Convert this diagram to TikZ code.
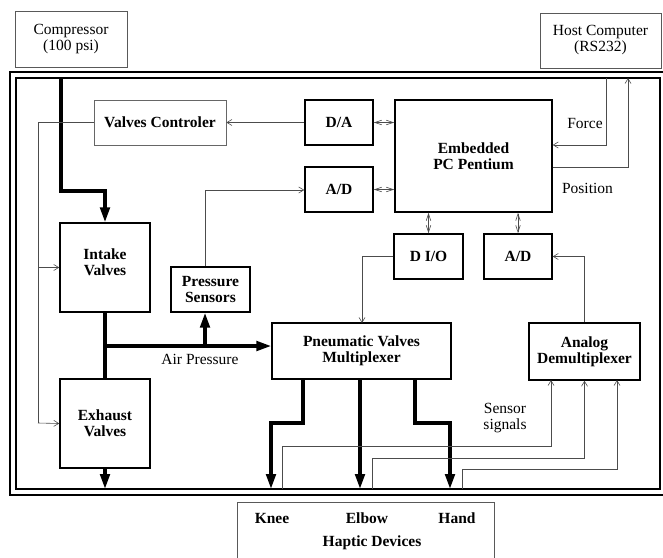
\documentclass[tikz,border=0pt]{standalone}
\usepackage{fontspec}
\setmainfont{Liberation Serif}
\usetikzlibrary{arrows.meta}
\begin{document}
\begin{tikzpicture}[x=1pt,y=-1pt,
  txt/.style={font=\fontsize{15.5}{16}\selectfont, align=center, inner sep=0pt},
  btxt/.style={font=\fontsize{15.5}{16}\selectfont\bfseries, align=center, inner sep=0pt},
  box/.style={btxt, draw, line width=1.4pt},
  lbox/.style={txt, draw=black!65, line width=0.7pt},
  frameline/.style={line width=1.8pt},
  flow/.style={line width=3.4pt},
  flowarrow/.style={flow, -{Triangle[length=15pt,width=9.5pt]}},
  sig/.style={draw=black!70, line width=0.6pt},
  sigarrow/.style={sig, -{Straight Barb[length=5pt,width=6pt]}},
  duplex/.style={sig, {Straight Barb[length=7pt,width=4.5pt]}-{Straight Barb[length=7pt,width=4.5pt]}}
]
\useasboundingbox (0,0) rectangle (663,557);

% frame
\draw[frameline] (10,72) rectangle (666,495);
\draw[frameline] (16,78) rectangle (660,489);

% outside boxes
\node[lbox, minimum width=112pt, minimum height=56pt] (comp) at (71,39) {Compressor\\(100 psi)};
\node[lbox, minimum width=121pt, minimum height=55pt] (host) at (600.5,40.5) {Host Computer\\(RS232)};

% inside boxes
\node[box, draw=black!60, line width=0.7pt, minimum width=132pt, minimum height=45pt] (vc) at (160,122.5) {Valves Controler};
\node[box, minimum width=68pt, minimum height=45pt] (da) at (339,122.5) {D/A};
\node[box, minimum width=68pt, minimum height=45pt] (adu) at (339,189.5) {A/D};
\node[box, minimum width=157pt, minimum height=112pt] (pc) at (473.5,156) {Embedded\\PC Pentium};
\node[box, minimum width=69pt, minimum height=45pt] (dio) at (428.5,256.5) {D I/O};
\node[box, minimum width=68pt, minimum height=45pt] (adl) at (518,256.5) {A/D};
\node[box, minimum width=90pt, minimum height=89pt] (intake) at (105,267.5) {};
\node[btxt] (intaket) at (105,262.5) {Intake\\Valves};
\node[box, minimum width=79pt, minimum height=45pt] (ps) at (210.5,289.5) {Pressure\\Sensors};
\node[box, minimum width=179pt, minimum height=56pt] (pvm) at (361.5,351) {Pneumatic Valves\\Multiplexer};
\node[box, minimum width=111pt, minimum height=57pt] (adm) at (584.5,351.5) {Analog\\Demultiplexer};
\node[box, minimum width=90pt, minimum height=89pt] (exh) at (105,423.5) {Exhaust\\Valves};

% haptic devices box (open at the bottom)
\draw[draw=black!65, line width=0.7pt] (237,560) -- (237,502) -- (494,502) -- (494,560);
\node[btxt] (knee) at (272,518) {Knee};
\node[btxt] (elbow) at (367,518) {Elbow};
\node[btxt] (hand) at (457,518) {Hand};
\node[btxt] (hd) at (372,543) {Haptic Devices};

% labels
\node[txt] (lforce) at (585,123) {Force};
\node[txt] (lpos) at (587.5,188) {Position};
\node[txt] (lair) at (200,359) {Air Pressure};
\node[txt] (lsens) at (505,418) {Sensor\\signals};

% frame coordinates
\coordinate (cin) at (61,78);
\coordinate (fforce) at (606,78);
\coordinate (fpos) at (628,78);
\coordinate (bexh) at (105,489);
\coordinate (bknee) at (271,489);
\coordinate (belbow) at (360,489);
\coordinate (bhand) at (450,489);
\coordinate (s1) at (282,489);
\coordinate (s2) at (372,489);
\coordinate (s3) at (462,489);

% thick air flow
\draw[flowarrow] (cin) -- (61,191) -- (105,191) -- (intake.north);
\draw[flow] (intake.south) -- (exh.north);
\draw[flowarrow] (103.3,346) -- ([yshift=5pt]pvm.west);
\draw[flowarrow] (205,346) -- ([xshift=-5.5pt]ps.south);
\draw[flowarrow] (exh.south) -- (bexh);
\draw[flowarrow] ([xshift=-58.5pt]pvm.south) -- (303,423) -- (271,423) -- (bknee);
\draw[flowarrow] ([xshift=-1.5pt]pvm.south) -- (belbow);
\draw[flowarrow] ([xshift=53.5pt]pvm.south) -- (415,423) -- (450,423) -- (bhand);

% signal lines
\draw[sigarrow] (da.west) -- (vc.east);
\draw[sig] (vc.west) -- (38,122.5) -- (38,423);
\draw[sigarrow] (38,423) -- (exh.west);
\draw[sigarrow] (38,267.5) -- (intake.west);
\draw[sigarrow] ([xshift=-5.5pt]ps.north) -- (205,190) -- ([yshift=-0.5pt]adu.west);
\draw[duplex] (da.east) -- (da.east -| pc.west);
\draw[duplex] (adu.east) -- (adu.east -| pc.west);
\draw[duplex] (dio.north) -- (dio.north |- pc.south);
\draw[duplex] (adl.north) -- (adl.north |- pc.south);
\draw[sigarrow] (fforce) -- (606,145) -- ([yshift=11pt]pc.east);
\draw[sigarrow] ([yshift=-11pt]pc.east) -- (628,167) -- (fpos);
\draw[sigarrow] (dio.west) -- (362,256.5) -- (362,323);
\draw[sigarrow] (adm.north) -- (584.5,256.5) -- (adl.east);
\draw[sigarrow] (s1) -- (282,446) -- (551,446) -- (551,380);
\draw[sigarrow] (s2) -- (372,458) -- (584.5,458) -- (adm.south);
\draw[sigarrow] (s3) -- (462,469) -- (617,469) -- (617,380);
\end{tikzpicture}
\end{document}
